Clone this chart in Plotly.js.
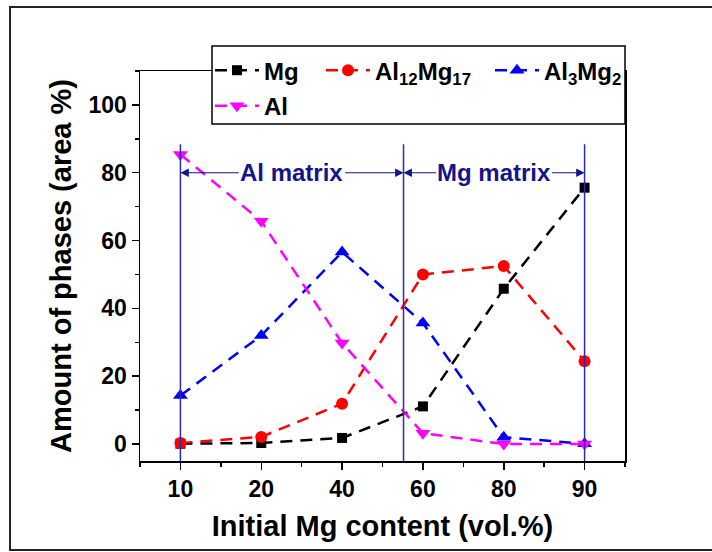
<!DOCTYPE html>
<html><head><meta charset="utf-8">
<script src="https://cdn.plot.ly/plotly-3.0.1.min.js"></script>
<style>html,body{margin:0;padding:0;background:#fff}#chart{width:712px;height:552px}</style>
</head><body><div id="chart"></div>
<script>
// ---- data ----
const categories = ['10', '20', '40', '60', '80', '90'];   // Initial Mg content (vol.%)
const mg       = [0.1, 0.3, 1.8, 11.1, 45.8, 75.6];
const al12mg17 = [0.3, 2.1, 11.9, 50.0, 52.5, 24.4];
const al3mg2   = [14.3, 32.0, 56.6, 35.7, 2.0, 0.1];
const al       = [85.4, 65.7, 29.8, 3.2, 0.0, 0.0];
const seriesNames = ['Mg', 'Al<sub>12</sub>Mg<sub>17</sub>', 'Al<sub>3</sub>Mg<sub>2</sub>', 'Al'];
const boundaries = [0, 2.76, 5];          // matrix boundaries, in category-index units
const regionLabels = ['Al matrix', 'Mg matrix'];
const yTickVals = [0, 20, 40, 60, 80, 100];

const xIdx = categories.map((c, i) => i);
const F = '"Liberation Sans", Arial, sans-serif';
const NAVY = '#14148c';
const VLINE = '#2b2bb0';

function mk(name, y, color, symbol, size, legend) {
  return {
    type: 'scatter', mode: 'lines+markers', name: name, x: xIdx, y: y, legend: legend,
    line: {color: color, width: 2.5, dash: '12px,8px'},
    marker: {color: color, symbol: symbol, size: size}
  };
}
const traces = [
  mk(seriesNames[0], mg, '#000000', 'square', 10, 'legend'),
  mk(seriesNames[1], al12mg17, '#ff0000', 'circle', 12, 'legend2'),
  mk(seriesNames[2], al3mg2, '#0000ff', 'triangle-up', 13, 'legend3'),
  mk(seriesNames[3], al, '#ff00ff', 'triangle-down', 13, 'legend4')
];

function leg(x, y) {
  return {x: x, y: y, xanchor: 'left', yanchor: 'middle', bgcolor: 'rgba(0,0,0,0)',
    borderwidth: 0, itemwidth: 44,
    font: {family: F, size: 24, weight: 'bold', color: '#000'}};
}

const shapes = [
  {type: 'rect', xref: 'paper', yref: 'paper', x0: -0.268, x1: 1.25, y0: -0.228, y1: 1.164,
   line: {color: '#222', width: 2}, fillcolor: 'rgba(0,0,0,0)', layer: 'below'},
  {type: 'rect', xref: 'paper', yref: 'paper', x0: 0.1485, x1: 1.0, y0: 0.864, y1: 1.064,
   line: {color: '#000', width: 1.5}, fillcolor: '#fff', layer: 'above'}
];
boundaries.forEach(b => shapes.push({type: 'line', xref: 'x', yref: 'y', x0: b, x1: b, y0: -5, y1: 88.4,
  line: {color: VLINE, width: 1.5}, layer: 'above'}));

const annFont = {family: F, size: 24, weight: 'bold', color: NAVY};
const annotations = [];
const halfW = [0.64, 0.70];
for (let i = 0; i < 2; i++) {
  const a = boundaries[i], b = boundaries[i + 1], c = (a + b) / 2;
  annotations.push({x: c, y: 80, xref: 'x', yref: 'y', text: regionLabels[i], showarrow: false, font: annFont});
  annotations.push({x: a, y: 80, ax: c - halfW[i], ay: 80, xref: 'x', yref: 'y', axref: 'x', ayref: 'y',
    text: '', showarrow: true, arrowhead: 2, arrowsize: 1.4, arrowwidth: 1.2, arrowcolor: NAVY});
  annotations.push({x: b, y: 80, ax: c + halfW[i], ay: 80, xref: 'x', yref: 'y', axref: 'x', ayref: 'y',
    text: '', showarrow: true, arrowhead: 2, arrowsize: 1.4, arrowwidth: 1.2, arrowcolor: NAVY});
}

const tickFont = {family: F, size: 23, weight: 'bold', color: '#000'};
const titleFont = {family: F, size: 29, weight: 'bold', color: '#000'};

const layout = {
  width: 712, height: 552,
  margin: {l: 140, r: 87, t: 71, b: 91},
  paper_bgcolor: '#fff', plot_bgcolor: '#fff',
  showlegend: true,
  legend: leg(0.1443, 1.001),
  legend2: leg(0.3732, 1.001),
  legend3: leg(0.7216, 1.001),
  legend4: leg(0.1443, 0.910),
  xaxis: {
    range: [-0.5, 5.5], tickmode: 'array', tickvals: xIdx, ticktext: categories,
    ticks: 'outside', ticklen: 7, tickwidth: 1.5, tickcolor: '#000',
    showline: true, linewidth: 1.5, linecolor: '#000', mirror: true,
    showgrid: false, zeroline: false, tickfont: tickFont,
    minor: {tickmode: 'linear', tick0: 0.5, dtick: 1, ticks: 'outside', ticklen: 4, tickwidth: 1.5, tickcolor: '#000', showgrid: false},
    title: {text: 'Initial Mg content (vol.%)', font: titleFont, standoff: 14}
  },
  yaxis: {
    range: [-5, 110], tickmode: 'array', tickvals: yTickVals,
    ticks: 'outside', ticklen: 7, tickwidth: 1.5, tickcolor: '#000',
    showline: true, linewidth: 1.5, linecolor: '#000', mirror: true,
    showgrid: false, zeroline: false, tickfont: tickFont,
    minor: {tickmode: 'linear', tick0: 0, dtick: 10, ticks: 'outside', ticklen: 4, tickwidth: 1.5, tickcolor: '#000', showgrid: false},
    title: {text: 'Amount of phases (area %)', font: titleFont, standoff: 8}
  },
  shapes: shapes,
  annotations: annotations
};

Plotly.newPlot('chart', traces, layout, {displayModeBar: false, staticPlot: true});
</script>
</body></html>
